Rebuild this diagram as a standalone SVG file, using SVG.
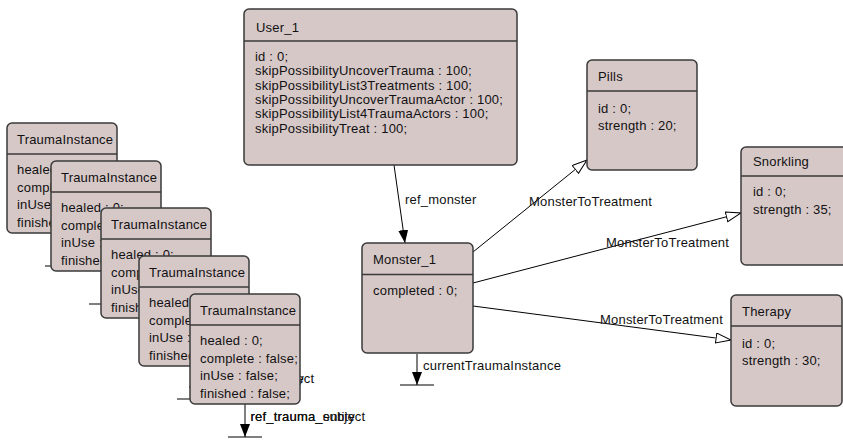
<svg xmlns="http://www.w3.org/2000/svg" width="843" height="440" viewBox="0 0 843 440">
<style>
.box{fill:#d7c8c8;stroke:#3a3a3a;stroke-width:1.5}
.div{stroke:#3a3a3a;stroke-width:1.5}
text{font-family:"Liberation Sans",Arial,sans-serif;font-size:13px;letter-spacing:0.2px;fill:#111}
.edge{stroke:#000;stroke-width:1;fill:none}
.bar{stroke:#000;stroke-width:1.2}
</style>
<defs>
<marker id="filled" markerUnits="userSpaceOnUse" markerWidth="14" markerHeight="11" refX="13" refY="5" orient="auto">
<path d="M0,0 L13,5 L0,10 z" fill="#000"/>
</marker>
<marker id="hollow" markerUnits="userSpaceOnUse" markerWidth="17" markerHeight="12" refX="15.5" refY="5.5" orient="auto">
<path d="M0.5,0.5 L15.5,5.5 L0.5,10.5 z" fill="#fff" stroke="#000" stroke-width="1"/>
</marker>
</defs>

<g id="connectors">
<line class="edge" x1="394" y1="165" x2="405" y2="243" marker-end="url(#filled)"/>
<text x="405" y="203.5">ref_monster</text>
<line class="edge" x1="417" y1="354" x2="417" y2="385" marker-end="url(#filled)"/>
<line class="bar" x1="400" y1="385" x2="434" y2="385"/>
<text x="423" y="369.5">currentTraumaInstance</text>
<line class="edge" x1="473" y1="252" x2="587" y2="160" marker-end="url(#hollow)"/>
<text x="529" y="206">MonsterToTreatment</text>
<line class="edge" x1="473" y1="283" x2="741" y2="213" marker-end="url(#hollow)"/>
<text x="606" y="246.5">MonsterToTreatment</text>
<line class="edge" x1="473" y1="306" x2="731" y2="340" marker-end="url(#hollow)"/>
<text x="600" y="323.5">MonsterToTreatment</text>
</g>

<g id="traumaInstance1">
<line class="edge" x1="62" y1="233" x2="62" y2="266" marker-end="url(#filled)"/>
<line class="bar" x1="45" y1="266" x2="79" y2="266"/>
<rect class="box" x="7" y="123" width="110" height="110" rx="5"/>
<line class="div" x1="7" y1="154" x2="117" y2="154"/>
<text x="17" y="143.5">TraumaInstance</text>
<text x="17" y="174">healed : 0;</text>
<text x="17" y="191.5">complete : false;</text>
<text x="17" y="209">inUse : false;</text>
<text x="17" y="226.5">finished : false;</text>
</g>

<g id="traumaInstance2">
<line class="edge" x1="106" y1="271" x2="106" y2="304" marker-end="url(#filled)"/>
<line class="bar" x1="89" y1="304" x2="123" y2="304"/>
<rect class="box" x="51" y="161" width="110" height="110" rx="5"/>
<line class="div" x1="51" y1="192" x2="161" y2="192"/>
<text x="61" y="181.5">TraumaInstance</text>
<text x="61" y="212">healed : 0;</text>
<text x="61" y="229.5">complete : false;</text>
<text x="61" y="247">inUse : false;</text>
<text x="61" y="264.5">finished : false;</text>
</g>

<g id="traumaInstance3">
<line class="edge" x1="156" y1="318" x2="156" y2="351" marker-end="url(#filled)"/>
<line class="bar" x1="139" y1="351" x2="173" y2="351"/>
<rect class="box" x="101" y="208" width="110" height="110" rx="5"/>
<line class="div" x1="101" y1="239" x2="211" y2="239"/>
<text x="111" y="228.5">TraumaInstance</text>
<text x="111" y="259">healed : 0;</text>
<text x="111" y="276.5">complete : false;</text>
<text x="111" y="294">inUse : false;</text>
<text x="111" y="311.5">finished : false;</text>
</g>

<g id="traumaInstance4">
<line class="edge" x1="194" y1="366" x2="194" y2="399" marker-end="url(#filled)"/>
<line class="bar" x1="177" y1="399" x2="211" y2="399"/>
<text x="199.5" y="383">ref_trauma_subject</text>
<text x="199.5" y="383">ref_trauma_entity</text>
<rect class="box" x="139" y="256" width="110" height="110" rx="5"/>
<line class="div" x1="139" y1="287" x2="249" y2="287"/>
<text x="149" y="276.5">TraumaInstance</text>
<text x="149" y="307">healed : 0;</text>
<text x="149" y="324.5">complete : false;</text>
<text x="149" y="342">inUse : false;</text>
<text x="149" y="359.5">finished : false;</text>
</g>

<g id="traumaInstance5">
<line class="edge" x1="245" y1="404" x2="245" y2="437" marker-end="url(#filled)"/>
<line class="bar" x1="228" y1="437" x2="262" y2="437"/>
<text x="250.5" y="421">ref_trauma_subject</text>
<text x="250.5" y="421">ref_trauma_entity</text>
<rect class="box" x="190" y="294" width="110" height="110" rx="5"/>
<line class="div" x1="190" y1="325" x2="300" y2="325"/>
<text x="200" y="314.5">TraumaInstance</text>
<text x="200" y="345">healed : 0;</text>
<text x="200" y="362.5">complete : false;</text>
<text x="200" y="380">inUse : false;</text>
<text x="200" y="397.5">finished : false;</text>
</g>

<g id="user1">
<rect class="box" x="244" y="9" width="273" height="156" rx="5"/>
<line class="div" x1="244" y1="41" x2="517" y2="41"/>
<text x="256" y="32">User_1</text>
<text x="255" y="61">id : 0;</text>
<text x="255" y="75.3">skipPossibilityUncoverTrauma : 100;</text>
<text x="255" y="89.6">skipPossibilityList3Treatments : 100;</text>
<text x="255" y="103.9">skipPossibilityUncoverTraumaActor : 100;</text>
<text x="255" y="118.2">skipPossibilityList4TraumaActors : 100;</text>
<text x="255" y="132.5">skipPossibilityTreat : 100;</text>
</g>

<g id="monster1">
<rect class="box" x="362" y="243" width="111" height="110" rx="5"/>
<line class="div" x1="362" y1="274.5" x2="473" y2="274.5"/>
<text x="373" y="263.5">Monster_1</text>
<text x="373" y="294.5">completed : 0;</text>
</g>

<g id="pills">
<rect class="box" x="587" y="60" width="110" height="110" rx="5"/>
<line class="div" x1="587" y1="91" x2="697" y2="91"/>
<text x="598" y="80.5">Pills</text>
<text x="598" y="112.5">id : 0;</text>
<text x="598" y="129.5">strength : 20;</text>
</g>

<g id="snorkling">
<rect class="box" x="741" y="147" width="111" height="118" rx="5"/>
<line class="div" x1="741" y1="176" x2="852" y2="176"/>
<text x="753" y="166">Snorkling</text>
<text x="753" y="196">id : 0;</text>
<text x="753" y="214">strength : 35;</text>
</g>

<g id="therapy">
<rect class="box" x="731" y="295" width="111" height="111" rx="5"/>
<line class="div" x1="731" y1="326" x2="842" y2="326"/>
<text x="742" y="316">Therapy</text>
<text x="742" y="347.5">id : 0;</text>
<text x="742" y="364.5">strength : 30;</text>
</g>
</svg>
